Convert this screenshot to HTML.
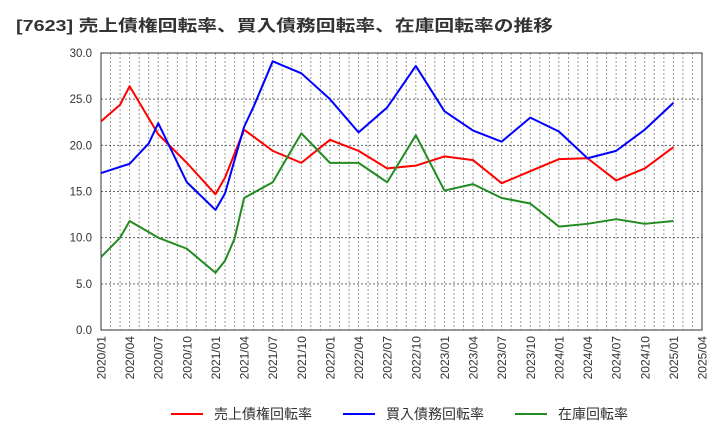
<!DOCTYPE html>
<html><head><meta charset="utf-8"><style>
body{margin:0;background:#fff;font-family:"Liberation Sans","Noto Sans CJK JP",sans-serif}
svg{display:block}
</style></head><body>
<svg id="chart" width="720" height="440" xmlns="http://www.w3.org/2000/svg">
<text x="16" y="31" font-size="16" font-weight="bold" fill="#333" textLength="537" lengthAdjust="spacingAndGlyphs" font-family="Liberation Sans, Noto Sans CJK JP, sans-serif">[7623]  売上債権回転率、買入債務回転率、在庫回転率の推移</text>
<g id="grid"></g>
<g id="axes"></g>
<g id="series"></g>
<g id="legend"></g>
</svg>
<script>
const xTickLabels=["2020/01","2020/04","2020/07","2020/10","2021/01","2021/04","2021/07","2021/10","2022/01","2022/04","2022/07","2022/10","2023/01","2023/04","2023/07","2023/10","2024/01","2024/04","2024/07","2024/10","2025/01","2025/04"];
const yTicks=[0,5,10,15,20,25,30];
const redMonths=[0,2,3,6,9,12,13,15,18,21,24,27,30,33,36,39,42,45,48,51,54,57,60];
const redValues=[22.6,24.4,26.4,21.2,18.1,14.7,16.5,21.7,19.4,18.1,20.6,19.4,17.5,17.8,18.8,18.4,15.9,17.2,18.5,18.6,16.2,17.5,19.8];
const blueMonths=[0,3,5,6,9,12,13,15,16,18,21,24,27,30,33,36,39,42,45,48,51,54,57,60];
const blueValues=[17.0,18.0,20.2,22.4,16.0,13.0,14.8,22.0,24.2,29.1,27.8,25.0,21.4,24.1,28.6,23.7,21.6,20.4,23.0,21.5,18.6,19.4,21.7,24.6];
const greenMonths=[0,2,3,6,9,12,13,14,15,18,21,24,27,30,33,36,39,42,45,48,51,54,57,60];
const greenValues=[7.9,10.0,11.8,10.0,8.8,6.2,7.5,9.9,14.3,16.0,21.3,18.1,18.1,16.0,21.1,15.1,15.8,14.3,13.7,11.2,11.5,12.0,11.5,11.8];
const seriesNames=["売上債権回転率","買入債務回転率","在庫回転率"];

const NS="http://www.w3.org/2000/svg";
const L=101,R=702,T=53,B=330,months=63;
const xs=m=>L+m*(R-L)/months;
const ys=v=>B-v*(B-T)/30;
function mk(tag,attrs,parent){const e=document.createElementNS(NS,tag);for(const k in attrs)e.setAttribute(k,attrs[k]);parent.appendChild(e);return e;}
const grid=document.getElementById('grid'),axes=document.getElementById('axes'),ser=document.getElementById('series'),leg=document.getElementById('legend');
for(let m=1;m<months;m++){
  const l=mk('line',{x1:xs(m),x2:xs(m),y1:T,y2:B,stroke:'#999','stroke-width':1,'stroke-dasharray':'2,2'},grid);
  
  
}
yTicks.forEach(v=>{
  if(v>0&&v<30){
    const l=mk('line',{x1:L,x2:R,y1:ys(v),y2:ys(v),stroke:'#666','stroke-width':1,'stroke-dasharray':'2,2'},grid);
    
    
  }
  const t=mk('text',{x:L-9,y:ys(v)+4,'font-size':11.5,fill:'#333','text-anchor':'end'},axes);
  t.textContent=v.toFixed(1);
  
  
});
const frame=mk('rect',{x:L,y:T,width:R-L,height:B-T,fill:'none',stroke:'#333','stroke-width':1},axes);


xTickLabels.forEach((s,i)=>{
  const x=xs(i*3);
  const t=mk('text',{x:0,y:0,'font-size':12,fill:'#333','text-anchor':'end',transform:`translate(${x+4.5},${B+6}) rotate(-90)`},axes);
  t.textContent=s;
  
  
});
function drawLine(mo,vals,color,name){
  const p=mk('polyline',{points:mo.map((m,i)=>xs(m)+','+ys(vals[i])).join(' '),fill:'none',stroke:color,'stroke-width':2,'stroke-linejoin':'round'},ser);
  
  
}
drawLine(redMonths,redValues,'#ff0000','receivables-turnover-line');
drawLine(blueMonths,blueValues,'#0000ff','payables-turnover-line');
drawLine(greenMonths,greenValues,'#228b22','inventory-turnover-line');
const legX=[171,343,515],cols=['#ff0000','#0000ff','#228b22'];
seriesNames.forEach((n,i)=>{
  const g=mk('g',{},leg);
  
  
  mk('line',{x1:legX[i],x2:legX[i]+32,y1:414,y2:414,stroke:cols[i],'stroke-width':2},g);
  const t=mk('text',{x:legX[i]+43,y:419,'font-size':14,fill:'#333'},g);
  t.textContent=n;
});
</script>
</body></html>
